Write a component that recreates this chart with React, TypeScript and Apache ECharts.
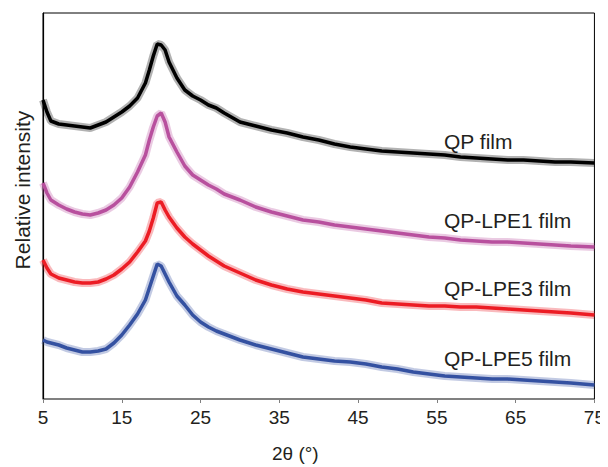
import React, { useEffect, useRef } from "react";
import * as echarts from "echarts";

// 2θ positions (degrees)
const twoTheta = [5, 5.5, 6, 7, 8, 9, 10, 11, 12, 13, 14, 15, 16, 17, 18, 18.5, 19, 19.5, 20, 20.5, 21, 22, 23, 24, 25, 26, 27, 28, 30, 32, 34, 36, 38, 40, 42, 44, 46, 48, 50, 52, 54, 56, 58, 60, 62, 64, 66, 68, 70, 72, 75];

// Relative intensities (arbitrary units, offset-stacked as in the figure)
const qpFilm = [299, 287, 278, 275, 274, 273, 272, 271, 274, 277, 282, 287, 293, 301, 316, 329, 343, 355, 354, 349, 337, 321, 309, 303, 299, 294, 291, 286, 277, 273, 269, 266, 262, 259, 255, 252, 250, 248, 247, 246, 245, 244, 242, 241, 240, 239, 239, 238, 237, 237, 236];
const qpLpe1 = [216, 206, 199, 194, 190, 187, 185, 184, 186, 189, 194, 201, 212, 227, 244, 259, 272, 283, 286, 277, 262, 247, 233, 224, 219, 214, 210, 205, 199, 192, 187, 183, 179, 177, 174, 172, 170, 168, 166, 164, 162, 161, 159, 158, 157, 157, 156, 155, 154, 153, 152];
const qpLpe3 = [139, 131, 125, 121, 119, 117, 116, 116, 117, 120, 124, 130, 137, 147, 158, 168, 181, 196, 197, 189, 182, 171, 162, 155, 149, 143, 138, 133, 126, 119, 114, 110, 107, 105, 103, 101, 99, 96, 95, 94, 93, 93, 92, 92, 91, 90, 89, 88, 87, 86, 84];
const qpLpe5 = [59, 57, 56, 54, 51, 49, 47, 47, 48, 50, 56, 64, 74, 85, 99, 111, 123, 135, 133, 125, 117, 103, 94, 84, 77, 72, 68, 65, 59, 54, 50, 46, 42, 40, 38, 37, 35, 32, 30, 27, 25, 23, 22, 21, 20, 20, 19, 18, 17, 16, 14];

const seriesNames = ["QP film", "QP-LPE1 film", "QP-LPE3 film", "QP-LPE5 film"];
const seriesColors = ["#000000", "#b8509e", "#ec1c24", "#3451a1"];
const xTicks = [5, 15, 25, 35, 45, 55, 65, 75];

export default function App() {
  const ref = useRef<HTMLDivElement>(null);
  useEffect(() => {
    if (!ref.current) return;
    const chart = echarts.init(ref.current, null, { renderer: "svg" });
    const all = [qpFilm, qpLpe1, qpLpe3, qpLpe5];
    const font = "'Liberation Sans', Arial, sans-serif";
    const series: any[] = [];
    all.forEach((vals, i) => {
      const data = twoTheta.map((x, k) => [x, vals[k]]);
      series.push({
        type: "line",
        name: seriesNames[i] + " band",
        data,
        symbol: "none",
        silent: true,
        lineStyle: { color: seriesColors[i], width: 8, opacity: 0.3 },
        z: 2,
      });
      series.push({
        type: "line",
        name: seriesNames[i],
        data,
        symbol: "none",
        lineStyle: { color: seriesColors[i], width: 3.5 },
        z: 3,
      });
    });
    const labelY = [143, 222, 290, 360];
    chart.setOption({
      animation: false,
      grid: {
        left: 43,
        right: 13,
        top: 13,
        bottom: 68,
        show: true,
        borderColor: "#000",
        borderWidth: 1,
      },
      xAxis: {
        type: "value",
        min: 5,
        max: 75,
        interval: 10,
        splitLine: { show: false },
        axisLine: { show: true, lineStyle: { color: "#808080", width: 1.2 } },
        axisTick: { show: true, length: 4, inside: false, lineStyle: { color: "#808080" } },
        axisLabel: {
          color: "#231f20",
          fontSize: 19,
          fontFamily: font,
          margin: 9,
          formatter: (v: number) => (xTicks.includes(v) ? String(v) : ""),
        },
      },
      yAxis: {
        type: "value",
        min: 0,
        max: 386,
        splitLine: { show: false },
        axisLine: { show: true, lineStyle: { color: "#000", width: 1.2 } },
        axisTick: { show: false },
        axisLabel: { show: false },
      },
      graphic: [
        ...seriesNames.map((n, i) => ({
          type: "text",
          left: 444,
          top: labelY[i] - 12,
          style: { text: n, fill: "#231f20", font: `21px ${font}` },
        })),
        {
          type: "text",
          left: 272,
          top: 444,
          style: { text: "2θ (°)", fill: "#231f20", font: `19px ${font}` },
        },
        {
          type: "text",
          x: 22,
          y: 190,
          rotation: Math.PI / 2,
          style: {
            text: "Relative intensity",
            fill: "#231f20",
            font: `21px ${font}`,
            align: "center",
            verticalAlign: "middle",
          },
        },
      ],
      series,
    });
    return () => chart.dispose();
  }, []);
  return <div ref={ref} style={{ width: 608, height: 467, marginLeft: -8, marginTop: -8 }} />;
}
